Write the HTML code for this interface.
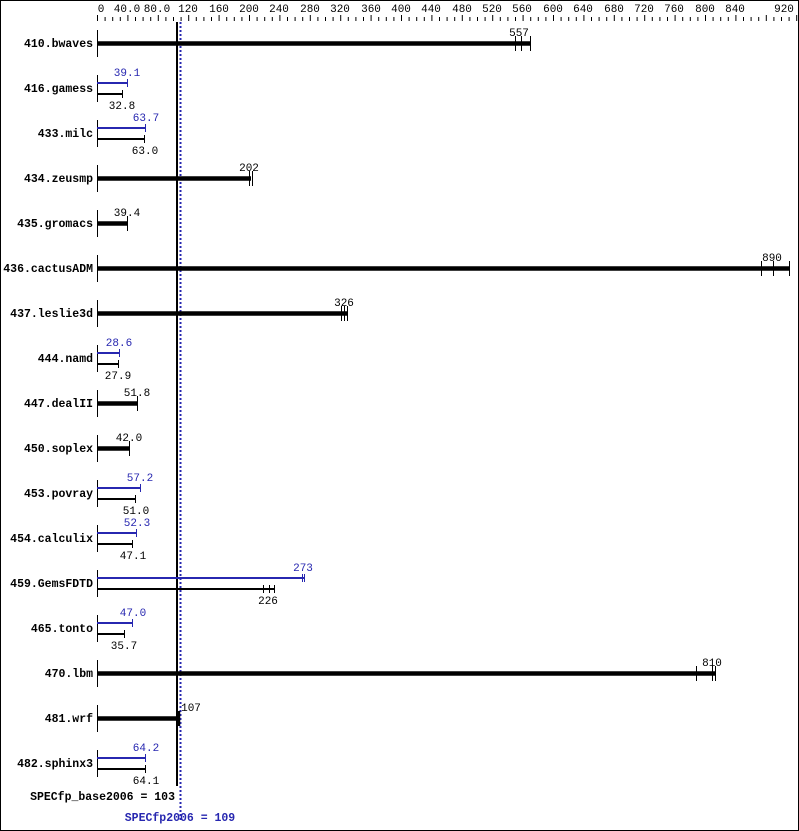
<!DOCTYPE html>
<html><head><style>
html,body{margin:0;padding:0;background:#fff}
svg{display:block}
.n{font-family:"Liberation Mono",monospace;font-weight:bold;font-size:11.5px;fill:#000}
.t{font-family:"Liberation Mono",monospace;font-size:11px;fill:#000}
.b{fill:#2727b0}
</style></head><body>
<svg width="799" height="831" viewBox="0 0 799 831" xmlns="http://www.w3.org/2000/svg">
<rect x="0.5" y="0.5" width="798" height="830" fill="#fff" stroke="#000"/>
<g class="t" text-anchor="middle">
<text x="101" y="12">0</text><text x="127" y="12">40.0</text><text x="157" y="12">80.0</text>
<text x="188" y="12">120</text><text x="219" y="12">160</text><text x="249" y="12">200</text>
<text x="279" y="12">240</text><text x="310" y="12">280</text><text x="340" y="12">320</text>
<text x="371" y="12">360</text><text x="401" y="12">400</text><text x="431" y="12">440</text>
<text x="462" y="12">480</text><text x="492" y="12">520</text><text x="522" y="12">560</text>
<text x="553" y="12">600</text><text x="583" y="12">640</text><text x="614" y="12">680</text>
<text x="644" y="12">720</text><text x="674" y="12">760</text><text x="705" y="12">800</text>
<text x="735" y="12">840</text><text x="784" y="12">920</text>
</g>
<path stroke="#000" stroke-width="1" d="
M97.5 15V21M105.1 17V21M112.7 17V21M120.3 17V21M127.9 15V21M135.5 17V21M143.1 17V21M150.7 17V21M158.3 15V21M165.9 17V21M173.5 17V21M181.1 17V21M188.7 15V21M196.3 17V21M203.9 17V21M211.5 17V21M219.1 15V21M226.7 17V21M234.3 17V21M241.9 17V21M249.5 15V21M257.1 17V21M264.7 17V21M272.3 17V21M279.9 15V21M287.5 17V21M295.1 17V21M302.7 17V21M310.3 15V21M317.9 17V21M325.5 17V21M333.1 17V21M340.7 15V21M348.3 17V21M355.9 17V21M363.5 17V21M371.1 15V21M378.7 17V21M386.3 17V21M393.9 17V21M401.5 15V21M409.1 17V21M416.7 17V21M424.3 17V21M431.9 15V21M439.5 17V21M447.1 17V21M454.7 17V21M462.3 15V21M469.9 17V21M477.5 17V21M485.1 17V21M492.7 15V21M500.3 17V21M507.9 17V21M515.5 17V21M523.1 15V21M530.7 17V21M538.3 17V21M545.9 17V21M553.5 15V21M561.1 17V21M568.7 17V21M576.3 17V21M583.9 15V21M591.5 17V21M599.1 17V21M606.7 17V21M614.3 15V21M621.9 17V21M629.5 17V21M637.1 17V21M644.7 15V21M652.3 17V21M659.9 17V21M667.5 17V21M675.1 15V21M682.7 17V21M690.3 17V21M697.9 17V21M705.5 15V21M713.1 17V21M720.7 17V21M728.3 17V21M735.9 15V21M743.5 17V21M751.1 17V21M758.7 17V21M766.3 15V21M773.9 17V21M781.5 17V21M789.1 17V21M796.7 15V21"/>
<line x1="177" y1="22" x2="177" y2="786" stroke="#000" stroke-width="2"/>
<line x1="180.5" y1="22" x2="180.5" y2="822" stroke="#2727b0" stroke-width="2" stroke-dasharray="2,2"/>
<g class="n" text-anchor="end">
<text x="93" y="47">410.bwaves</text><text x="93" y="92">416.gamess</text><text x="93" y="137">433.milc</text>
<text x="93" y="182">434.zeusmp</text><text x="93" y="227">435.gromacs</text><text x="93" y="272">436.cactusADM</text>
<text x="93" y="317">437.leslie3d</text><text x="93" y="362">444.namd</text><text x="93" y="407">447.dealII</text>
<text x="93" y="452">450.soplex</text><text x="93" y="497">453.povray</text><text x="93" y="542">454.calculix</text>
<text x="93" y="587">459.GemsFDTD</text><text x="93" y="632">465.tonto</text><text x="93" y="677">470.lbm</text>
<text x="93" y="722">481.wrf</text><text x="93" y="767">482.sphinx3</text>
</g>
<g stroke="#000" stroke-width="1">
<path d="M97.5 30V57M97.5 75V102M97.5 120V147M97.5 165V192M97.5 210V237M97.5 255V282M97.5 300V327M97.5 345V372M97.5 390V417M97.5 435V462M97.5 480V507M97.5 525V552M97.5 570V597M97.5 615V642M97.5 660V687M97.5 705V732M97.5 750V777"/>
</g>
<g stroke="#000" stroke-width="4.5">
<line x1="97" y1="43.5" x2="530" y2="43.5"/>
<line x1="97" y1="178.5" x2="251" y2="178.5"/>
<line x1="97" y1="223.5" x2="127" y2="223.5"/>
<line x1="97" y1="268.5" x2="789" y2="268.5"/>
<line x1="97" y1="313.5" x2="347" y2="313.5"/>
<line x1="97" y1="403.5" x2="137" y2="403.5"/>
<line x1="97" y1="448.5" x2="129" y2="448.5"/>
<line x1="97" y1="673.5" x2="715" y2="673.5"/>
<line x1="97" y1="718.5" x2="178" y2="718.5"/>
</g>
<g stroke="#000" stroke-width="1">
<path d="M515.5 36V51M521.5 36V51M530.5 36V51M249.5 171V186M252.5 171V186M127.5 216V231M761.5 261V276M773.5 261V276M789.5 261V276M341.5 306V321M344.5 306V321M347.5 306V321M137.5 396V411M129.5 441V456M696.5 666V681M712.5 666V681M715.5 666V681"/>
<path d="M178.5 711V726M179.5 711V726" stroke-width="1.5"/>
</g>
<g class="t" text-anchor="middle">
<text x="519" y="36">557</text><text x="249" y="171">202</text><text x="127" y="216">39.4</text>
<text x="772" y="261">890</text><text x="344" y="306">326</text><text x="137" y="396">51.8</text>
<text x="129" y="441">42.0</text><text x="712" y="666">810</text><text x="191" y="711">107</text>
</g>
<g stroke="#2727b0" stroke-width="2">
<path d="M97 83H127M97 128H145.5M97 353H119M97 488H140.5M97 533H137M97 578H304M97 623H133M97 758H146"/>
</g>
<g stroke="#2727b0" stroke-width="1">
<path d="M127.5 79V87M145.5 124V132M119.5 349V357M140.5 484V492M136.5 529V537M302.5 574V582M304.5 574V582M132.5 619V627M145.5 754V762"/>
</g>
<g stroke="#000" stroke-width="2">
<path d="M97 94H122M97 139H145M97 364H118M97 499H136M97 544H133M97 589H274M97 634H124M97 769H146"/>
</g>
<g stroke="#000" stroke-width="1">
<path d="M122.5 90V98M144.5 135V143M118.5 360V368M135.5 495V503M132.5 540V548M263.5 585V593M269.5 585V593M274.5 585V593M124.5 630V638M145.5 765V773"/>
</g>
<g class="t b" text-anchor="middle">
<text x="127" y="76">39.1</text><text x="146" y="121">63.7</text><text x="119" y="346">28.6</text>
<text x="140" y="481">57.2</text><text x="137" y="526">52.3</text><text x="303" y="571">273</text>
<text x="133" y="616">47.0</text><text x="146" y="751">64.2</text>
</g>
<g class="t" text-anchor="middle">
<text x="122" y="109">32.8</text><text x="145" y="154">63.0</text><text x="118" y="379">27.9</text>
<text x="136" y="514">51.0</text><text x="133" y="559">47.1</text><text x="268" y="604">226</text>
<text x="124" y="649">35.7</text><text x="146" y="784">64.1</text>
</g>
<text class="n" x="175" y="800" text-anchor="end">SPECfp_base2006 = 103</text>
<text class="n b" x="180" y="821" text-anchor="middle" style="fill:#2727b0">SPECfp2006 = 109</text>
</svg>
</body></html>
